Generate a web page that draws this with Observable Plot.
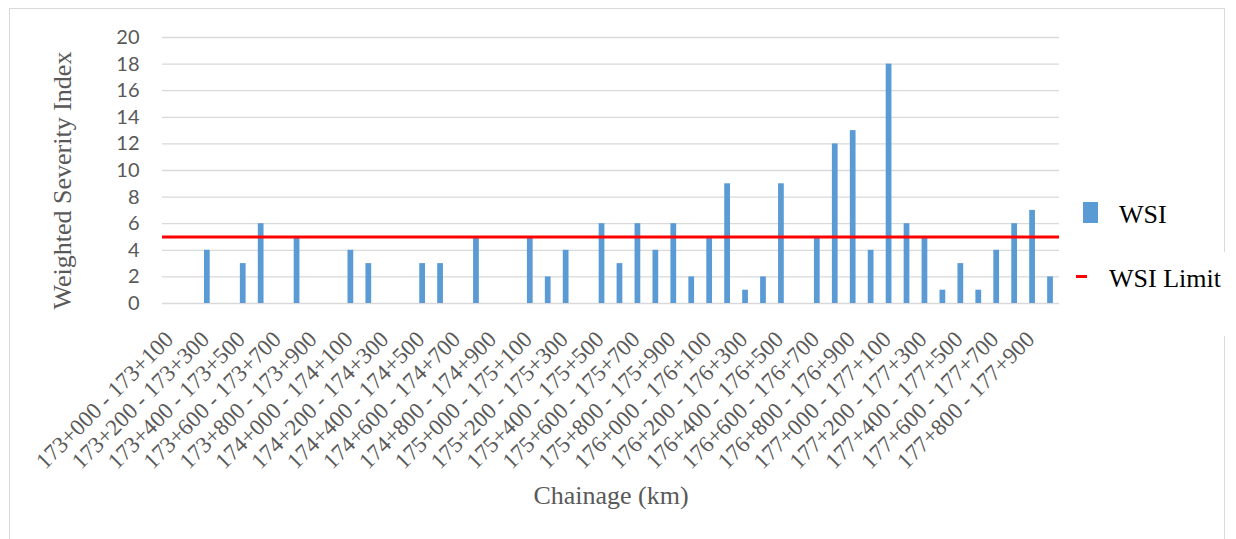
<!DOCTYPE html>
<html>
<head>
<meta charset="utf-8">
<script src="https://cdn.jsdelivr.net/npm/d3@7"></script>
<script src="https://cdn.jsdelivr.net/npm/@observablehq/plot@0.6"></script>
<style>
  html, body { margin: 0; padding: 0; background: #fff; }
  #wrap { position: relative; width: 1236px; height: 539px; overflow: hidden; }
  #border { position: absolute; left: 9px; top: 8px; width: 1216px; height: 600px; border: 1.5px solid #D9D9D9; box-sizing: border-box; }
  #chart { position: absolute; left: 0; top: 0; }
  #gap { position: absolute; left: 1215px; top: 252px; width: 21px; height: 84px; background: #fff; }
  .leg { position: absolute; font-family: "Liberation Serif", "Times New Roman", serif; font-size: 26px; color: #000; line-height: 1; white-space: nowrap; }
  .sw1 { position: absolute; left: 1083px; top: 202px; width: 15px; height: 21px; background: #5B9BD5; }
  .sw2 { position: absolute; left: 1076px; top: 275px; width: 11px; height: 3px; background: #FF0000; }
</style>
</head>
<body>
<div id="wrap">
  <div id="border"></div>
  <div id="chart"></div>
  <div id="gap"></div>
  <div class="sw1"></div>
  <div class="leg" style="left:1119px; top:202px;">WSI</div>
  <div class="sw2"></div>
  <div class="leg" style="left:1109px; top:266px;">WSI Limit</div>
</div>
<script>
const categories = [
  "173+000 - 173+100", "173+100 - 173+200", "173+200 - 173+300", "173+300 - 173+400", "173+400 - 173+500",
  "173+500 - 173+600", "173+600 - 173+700", "173+700 - 173+800", "173+800 - 173+900", "173+900 - 174+000",
  "174+000 - 174+100", "174+100 - 174+200", "174+200 - 174+300", "174+300 - 174+400", "174+400 - 174+500",
  "174+500 - 174+600", "174+600 - 174+700", "174+700 - 174+800", "174+800 - 174+900", "174+900 - 175+000",
  "175+000 - 175+100", "175+100 - 175+200", "175+200 - 175+300", "175+300 - 175+400", "175+400 - 175+500",
  "175+500 - 175+600", "175+600 - 175+700", "175+700 - 175+800", "175+800 - 175+900", "175+900 - 176+000",
  "176+000 - 176+100", "176+100 - 176+200", "176+200 - 176+300", "176+300 - 176+400", "176+400 - 176+500",
  "176+500 - 176+600", "176+600 - 176+700", "176+700 - 176+800", "176+800 - 176+900", "176+900 - 177+000",
  "177+000 - 177+100", "177+100 - 177+200", "177+200 - 177+300", "177+300 - 177+400", "177+400 - 177+500",
  "177+500 - 177+600", "177+600 - 177+700", "177+700 - 177+800", "177+800 - 177+900", "177+900 - 178+000"
];
const wsiValues = [
  0, 0, 4, 0, 3, 6, 0, 5, 0, 0,
  4, 3, 0, 0, 3, 3, 0, 5, 0, 0,
  5, 2, 4, 0, 6, 3, 6, 4, 6, 2,
  5, 9, 1, 2, 9, 0, 5, 12, 13, 4,
  18, 6, 5, 1, 3, 1, 4, 6, 7, 2
];
const wsiLimit = 5;
const shownTicks = [
  "173+000 - 173+100", "173+200 - 173+300", "173+400 - 173+500", "173+600 - 173+700", "173+800 - 173+900",
  "174+000 - 174+100", "174+200 - 174+300", "174+400 - 174+500", "174+600 - 174+700", "174+800 - 174+900",
  "175+000 - 175+100", "175+200 - 175+300", "175+400 - 175+500", "175+600 - 175+700", "175+800 - 175+900",
  "176+000 - 176+100", "176+200 - 176+300", "176+400 - 176+500", "176+600 - 176+700", "176+800 - 176+900",
  "177+000 - 177+100", "177+200 - 177+300", "177+400 - 177+500", "177+600 - 177+700", "177+800 - 177+900"
];
const yTicks = [0, 2, 4, 6, 8, 10, 12, 14, 16, 18, 20];
const yTitle = "Weighted Severity Index";
const xTitle = "Chainage (km)";

const data = categories.map((c, i) => ({cat: c, wsi: wsiValues[i]}));

const chart = Plot.plot({
  width: 1236,
  height: 539,
  marginLeft: 162,
  marginRight: 177,
  marginTop: 37,
  marginBottom: 236,
  style: {background: "transparent", overflow: "visible"},
  x: {domain: categories, paddingInner: 0.68, paddingOuter: 0.34},
  y: {domain: [0, 20]},
  marks: [
    Plot.gridY(yTicks, {stroke: "#D9D9D9", strokeOpacity: 1, strokeWidth: 1.3}),
    Plot.barY(data, {x: "cat", y: "wsi", fill: "#5B9BD5"}),
    Plot.ruleY([wsiLimit], {stroke: "#FF0000", strokeWidth: 3}),
    Plot.axisY({ticks: yTicks, tickSize: 0, tickPadding: 23, label: null}),
    Plot.axisX({ticks: shownTicks, tickRotate: -45, tickSize: 0, tickPadding: 32, dx: -2, label: null}),
    Plot.text([yTitle], {text: d => d, frameAnchor: "left", textAnchor: "middle", dx: -100, dy: 10, rotate: -90, fontSize: 26, fontFamily: "Liberation Serif", fill: "#595959"}),
    Plot.text([xTitle], {text: d => d, frameAnchor: "bottom", textAnchor: "middle", dy: 200, fontSize: 26, fontFamily: "Liberation Serif", fill: "#595959"})
  ]
});
d3.select(chart).selectAll("text").each(function () {
  const t = this.textContent;
  if (t.includes("+")) {
    this.style.fontFamily = '"Liberation Serif", "Times New Roman", serif';
    this.style.fontSize = "23px";
    this.style.fill = "#595959";
  } else if (/^\d+$/.test(t.trim())) {
    this.style.fontFamily = 'Lato, "Open Sans", sans-serif';
    this.style.fontSize = "20px";
    this.style.fill = "#595959";
  }
});
document.getElementById("chart").appendChild(chart);
</script>
</body>
</html>
